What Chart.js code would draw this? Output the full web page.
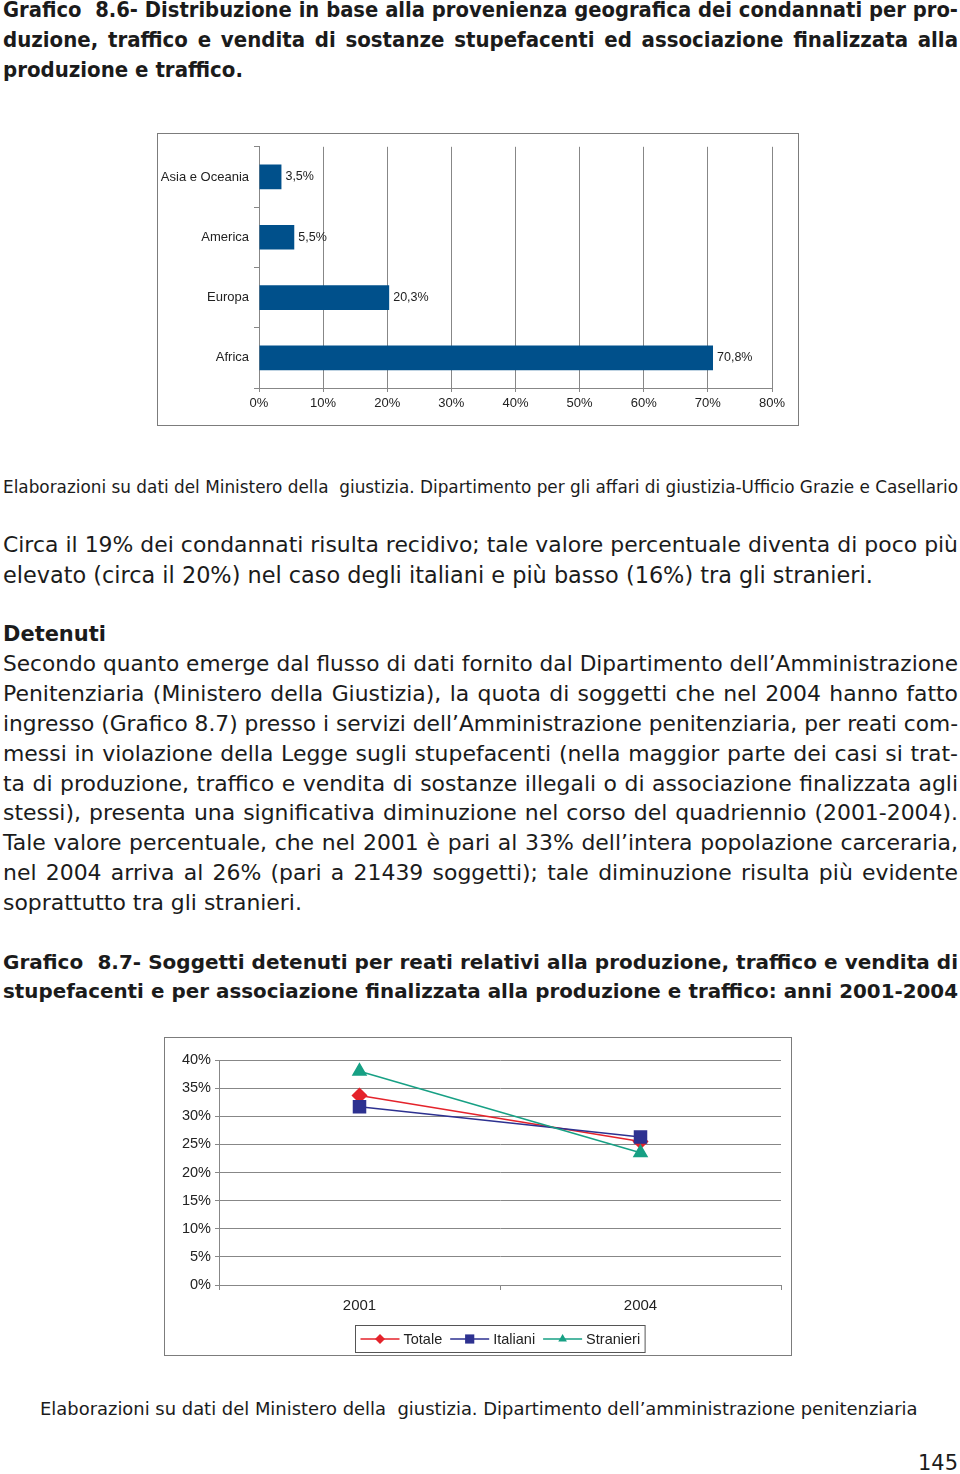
<!DOCTYPE html>
<html lang="it">
<head>
<meta charset="utf-8">
<title>Grafici 8.6 e 8.7</title>
<script src="https://cdn.jsdelivr.net/npm/chart.js@4.4.0/dist/chart.umd.min.js"></script>
<style>
html, body { margin: 0; padding: 0; background: #fff; }
body { width: 960px; height: 1474px; position: relative; overflow: hidden; color: #1b1b1b; }
.riga { position: absolute; height: 30px; line-height: 30px; white-space: pre; }
.giust { text-align: justify; text-align-last: justify; white-space: pre-wrap; }
.box { position: absolute; border: 1px solid #7c7c7c; box-sizing: border-box; background: #fff; }
.box .area { position: absolute; left: 0; top: 0; right: 0; bottom: 0; }
</style>
</head>
<body>

<div class="box" style="left:157px; top:133px; width:642px; height:293px;">
  <div class="area"><canvas id="graf-86"></canvas></div>
</div>

<div class="box" style="left:164px; top:1037px; width:628px; height:319px;">
  <div class="area"><canvas id="graf-87"></canvas></div>
</div>

<script>
// dati grafico 8.6
const regioni = ['Asia e Oceania', 'America', 'Europa', 'Africa'];
const quoteRegioni = [3.5, 5.5, 20.3, 70.8];

// dati grafico 8.7
const anni = ['2001', '2004'];
const totale = [33.7, 25.5];
const italiani = [31.7, 26.3];
const stranieri = [38.0, 23.5];

const rosso = '#e4232b';
const blu = '#2d3190';
const verde = '#17a084';
const grigio = '#878787';

// testo della pagina, riga per riga: [centro y, testo, giustificata]
const gruppi = [
  { fam: '"DejaVu Sans Condensed", "DejaVu Sans"', peso: 'bold', base: 22, ultima: 240, righe: [
    [10, 'Grafico\u00a0 8.6- Distribuzione in base alla provenienza geografica dei condannati per pro-', 1],
    [40, 'duzione, traffico e vendita di sostanze stupefacenti ed associazione finalizzata alla', 1],
    [70, 'produzione e traffico.', 0]
  ]},
  { fam: '"DejaVu Sans"', peso: 'normal', base: 17, ultima: 955, righe: [
    [487, 'Elaborazioni su dati del Ministero della\u00a0 giustizia. Dipartimento per gli affari di giustizia-Ufficio Grazie e Casellario', 0]
  ]},
  { fam: '"DejaVu Sans"', peso: 'normal', base: 21, ultima: 870, righe: [
    [545, 'Circa il 19% dei condannati risulta recidivo; tale valore percentuale diventa di poco più', 1],
    [575, 'elevato (circa il 20%) nel caso degli italiani e più basso (16%) tra gli stranieri.', 0]
  ]},
  { fam: '"DejaVu Sans"', peso: 'bold', base: 21, ultima: 103, righe: [
    [634, 'Detenuti', 0]
  ]},
  { fam: '"DejaVu Sans"', peso: 'normal', base: 21, ultima: 299, righe: [
    [664, 'Secondo quanto emerge dal flusso di dati fornito dal Dipartimento dell’Amministrazione', 1],
    [694, 'Penitenziaria (Ministero della Giustizia), la quota di soggetti che nel 2004 hanno fatto', 1],
    [724, 'ingresso (Grafico 8.7) presso i servizi dell’Amministrazione penitenziaria, per reati com-', 1],
    [754, 'messi in violazione della Legge sugli stupefacenti (nella maggior parte dei casi si trat-', 1],
    [784, 'ta di produzione, traffico e vendita di sostanze illegali o di associazione finalizzata agli', 1],
    [813, 'stessi), presenta una significativa diminuzione nel corso del quadriennio (2001-2004).', 1],
    [843, 'Tale valore percentuale, che nel 2001 è pari al 33% dell’intera popolazione carceraria,', 1],
    [873, 'nel 2004 arriva al 26% (pari a 21439 soggetti); tale diminuzione risulta più evidente', 1],
    [903, 'soprattutto tra gli stranieri.', 0]
  ]},
  { fam: '"DejaVu Sans"', peso: 'bold', base: 20, righe: [
    [962, 'Grafico\u00a0 8.7- Soggetti detenuti per reati relativi alla produzione, traffico e vendita di', 1],
    [992, 'stupefacenti e per associazione finalizzata alla produzione e traffico: anni 2001-2004', 1]
  ]},
  { fam: '"DejaVu Sans"', peso: 'normal', base: 18, ultima: 878, sx: 40, righe: [
    [1409, 'Elaborazioni su dati del Ministero della\u00a0 giustizia. Dipartimento dell’amministrazione penitenziaria', 0]
  ]},
  { fam: '"DejaVu Sans"', peso: 'normal', base: 21, ultima: 40, sx: 918, righe: [
    [1463, '145', 0]
  ]}
];

const misura = document.createElement('canvas').getContext('2d');
function larghezza(testo, peso, size, fam) {
  misura.font = peso + ' ' + size + 'px ' + fam;
  return misura.measureText(testo).width;
}

gruppi.forEach(g => {
  const ultimaRiga = g.righe[g.righe.length - 1][1];
  let size = g.base;
  if (g.ultima) size = g.base * g.ultima / larghezza(ultimaRiga, g.peso, g.base, g.fam);
  g.righe.forEach(([y, testo, giust]) => {
    let s = size;
    const w = larghezza(testo, g.peso, s, g.fam);
    if (giust && w > 954) s = s * 954 / w;
    const div = document.createElement('div');
    div.className = 'riga' + (giust ? ' giust' : '');
    div.textContent = testo;
    div.style.left = (g.sx || 3) + 'px';
    div.style.width = giust ? '955px' : 'auto';
    div.style.top = (y - 15) + 'px';
    div.style.fontFamily = g.fam;
    div.style.fontWeight = g.peso;
    div.style.fontSize = s.toFixed(2) + 'px';
    document.body.appendChild(div);
  });
});

Chart.defaults.font.family = '"Liberation Sans", Arial, sans-serif';
Chart.defaults.color = '#222';

// etichette a destra delle barre
const etichette = {
  id: 'etichette',
  afterDatasetsDraw(chart) {
    const ctx = chart.ctx;
    const meta = chart.getDatasetMeta(0);
    ctx.save();
    ctx.font = '12.5px "Liberation Sans", Arial, sans-serif';
    ctx.fillStyle = '#222';
    ctx.textBaseline = 'middle';
    meta.data.forEach((barra, i) => {
      const testo = quoteRegioni[i].toFixed(1).replace('.', ',') + '%';
      ctx.fillText(testo, barra.x + 4, barra.y);
    });
    ctx.restore();
  }
};

new Chart(document.getElementById('graf-86'), {
  type: 'bar',
  data: {
    labels: regioni,
    datasets: [{
      data: quoteRegioni,
      backgroundColor: '#00508b',
      borderWidth: 0,
      categoryPercentage: 1,
      barPercentage: 0.41
    }]
  },
  options: {
    indexAxis: 'y',
    responsive: true,
    maintainAspectRatio: false,
    animation: false,
    layout: { padding: { top: 10, right: 26, left: 0, bottom: 0 } },
    plugins: { legend: { display: false }, tooltip: { enabled: false } },
    scales: {
      x: {
        min: 0,
        max: 80,
        ticks: { stepSize: 10, callback: v => v + '%', font: { size: 13 }, padding: 4 },
        grid: { color: grigio, tickLength: 4 },
        border: { color: grigio },
        afterFit: s => { s.height = 37; }
      },
      y: {
        grid: { drawOnChartArea: false, offset: true, tickLength: 5, color: grigio },
        border: { color: grigio },
        ticks: { font: { size: 13 }, padding: 5 },
        afterFit: s => { s.width = 101; }
      }
    }
  },
  plugins: [etichette]
});

function marcatore(ctx, stile, x, y, r) {
  ctx.beginPath();
  if (stile === 'rectRot') {
    ctx.moveTo(x, y - r); ctx.lineTo(x + r, y); ctx.lineTo(x, y + r); ctx.lineTo(x - r, y);
  } else if (stile === 'rect') {
    const h = r * Math.SQRT1_2;
    ctx.rect(x - h, y - h, 2 * h, 2 * h);
  } else {
    ctx.moveTo(x, y - r); ctx.lineTo(x + r * 0.866, y + r / 2); ctx.lineTo(x - r * 0.866, y + r / 2);
  }
  ctx.closePath();
  ctx.fill();
}

// legenda incorniciata sotto l'asse
const legenda = {
  id: 'legenda',
  afterDraw(chart) {
    const ctx = chart.ctx;
    const ds = chart.data.datasets;
    ctx.save();
    ctx.font = '14.5px "Liberation Sans", Arial, sans-serif';
    const linea = 39, spazio = 4, dopo = 8, bordo = 5;
    let tot = bordo * 2;
    ds.forEach((d, i) => {
      tot += linea + spazio + ctx.measureText(d.label).width + (i < ds.length - 1 ? dopo : 0);
    });
    const cx = (chart.chartArea.left + chart.chartArea.right) / 2;
    const top = 287, alt = 27;
    let x = Math.round(cx - tot / 2) + 0.5;
    ctx.strokeStyle = '#555';
    ctx.lineWidth = 1;
    ctx.strokeRect(x, top + 0.5, tot, alt);
    const ym = top + alt / 2 + 0.5;
    x += bordo;
    ds.forEach(d => {
      ctx.strokeStyle = d.borderColor;
      ctx.lineWidth = 1.5;
      ctx.beginPath();
      ctx.moveTo(x, ym); ctx.lineTo(x + linea, ym);
      ctx.stroke();
      ctx.fillStyle = d.borderColor;
      marcatore(ctx, d.pointStyle, x + linea / 2, ym, d.pointStyle === 'rect' ? 6.5 : 5);
      x += linea + spazio;
      ctx.fillStyle = '#222';
      ctx.textBaseline = 'middle';
      ctx.fillText(d.label, x, ym + 1);
      x += ctx.measureText(d.label).width + dopo;
    });
    ctx.restore();
  }
};

new Chart(document.getElementById('graf-87'), {
  type: 'line',
  data: {
    labels: anni,
    datasets: [
      { label: 'Totale', data: totale, borderColor: rosso, backgroundColor: rosso, pointStyle: 'rectRot', pointRadius: 7, borderWidth: 1.5, order: 3 },
      { label: 'Italiani', data: italiani, borderColor: blu, backgroundColor: blu, pointStyle: 'rect', pointRadius: 8.5, borderWidth: 1.5, order: 2 },
      { label: 'Stranieri', data: stranieri, borderColor: verde, backgroundColor: verde, pointStyle: 'triangle', pointRadius: 7.5, borderWidth: 1.5, order: 1 }
    ]
  },
  options: {
    responsive: true,
    maintainAspectRatio: false,
    animation: false,
    layout: { padding: { top: 22, right: 9, left: 0, bottom: 0 } },
    plugins: { legend: { display: false }, tooltip: { enabled: false } },
    scales: {
      x: {
        offset: true,
        grid: { offset: true, drawOnChartArea: false, tickLength: 5, color: grigio },
        border: { color: grigio },
        ticks: { font: { size: 15 }, padding: 7 },
        afterFit: s => { s.height = 70; }
      },
      y: {
        min: 0,
        max: 40,
        ticks: { stepSize: 5, callback: v => v + '%', font: { size: 14.5 }, padding: 4 },
        grid: { color: grigio, tickLength: 4 },
        border: { color: grigio },
        afterFit: s => { s.width = 54; }
      }
    }
  },
  plugins: [legenda]
});
</script>
</body>
</html>
